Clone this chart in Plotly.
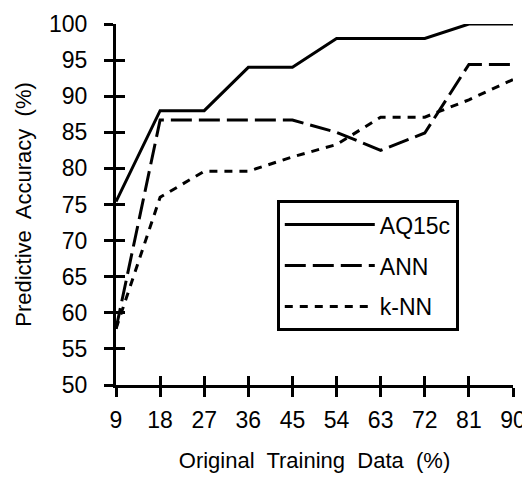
import plotly.graph_objects as go

training_pct = [9, 18, 27, 36, 45, 54, 63, 72, 81, 90]
aq15c = [75.4, 88.0, 88.0, 94.0, 94.0, 98.0, 98.0, 98.0, 100.0, 100.0]
ann = [57.8, 86.7, 86.7, 86.7, 86.7, 85.0, 82.5, 84.9, 94.4, 94.4]
knn = [57.8, 76.0, 79.6, 79.6, 81.6, 83.3, 87.1, 87.1, 89.5, 92.3]
y_ticks = [50, 55, 60, 65, 70, 75, 80, 85, 90, 95, 100]

FONT = "Liberation Sans, Arial, sans-serif"

fig = go.Figure()
fig.add_trace(go.Scatter(x=training_pct, y=aq15c, name="AQ15c", mode="lines",
                         line=dict(color="black", width=3, dash="solid"),
                         legendgroup="a"))
fig.add_trace(go.Scatter(x=training_pct, y=ann, name="ANN", mode="lines",
                         line=dict(color="black", width=3, dash="21px,7px"),
                         legendgroup="b"))
fig.add_trace(go.Scatter(x=training_pct, y=knn, name="k-NN", mode="lines",
                         line=dict(color="black", width=3, dash="8px,7px"),
                         legendgroup="c"))

axis_common = dict(showgrid=False, zeroline=False, showline=True, linecolor="black",
                   linewidth=3, ticklen=9, tickwidth=3, tickcolor="black",
                   automargin=False)

fig.update_layout(
    width=522, height=469,
    margin=dict(l=108, r=17, t=16, b=92),
    paper_bgcolor="white", plot_bgcolor="white",
    font=dict(family=FONT, size=23, color="black"),
    xaxis=dict(range=[9, 90], tickvals=training_pct, ticks="outside",
               ticklabelstandoff=3,
               title=dict(text="Original  Training  Data  (%)", standoff=22,
                          font=dict(size=22)),
               **axis_common),
    yaxis=dict(range=[50, 100], tickvals=y_ticks, ticks="outside",
               ticklabelstandoff=12,
               title=dict(text="Predictive  Accuracy  (%)", standoff=12,
                          font=dict(size=22)),
               **axis_common),
    xaxis2=dict(range=[9, 90], tickvals=training_pct, ticks="inside", overlaying="x",
                showticklabels=False, matches="x", **axis_common),
    yaxis2=dict(range=[50, 100], tickvals=y_ticks, ticks="inside", overlaying="y",
                showticklabels=False, matches="y", **axis_common),
    showlegend=True,
    legend=dict(x=0.405, y=0.512, xanchor="left", yanchor="top",
                bgcolor="white", bordercolor="black", borderwidth=3,
                font=dict(size=23), itemwidth=90, traceorder="grouped",
                tracegroupgap=8),
)
# invisible helper trace to activate the overlay axes that carry inside ticks
fig.add_trace(go.Scatter(x=[training_pct[0]], y=[y_ticks[0]], xaxis="x2", yaxis="y2",
                         mode="markers", marker=dict(opacity=0), showlegend=False,
                         hoverinfo="skip"))

fig.write_html("out.html")
